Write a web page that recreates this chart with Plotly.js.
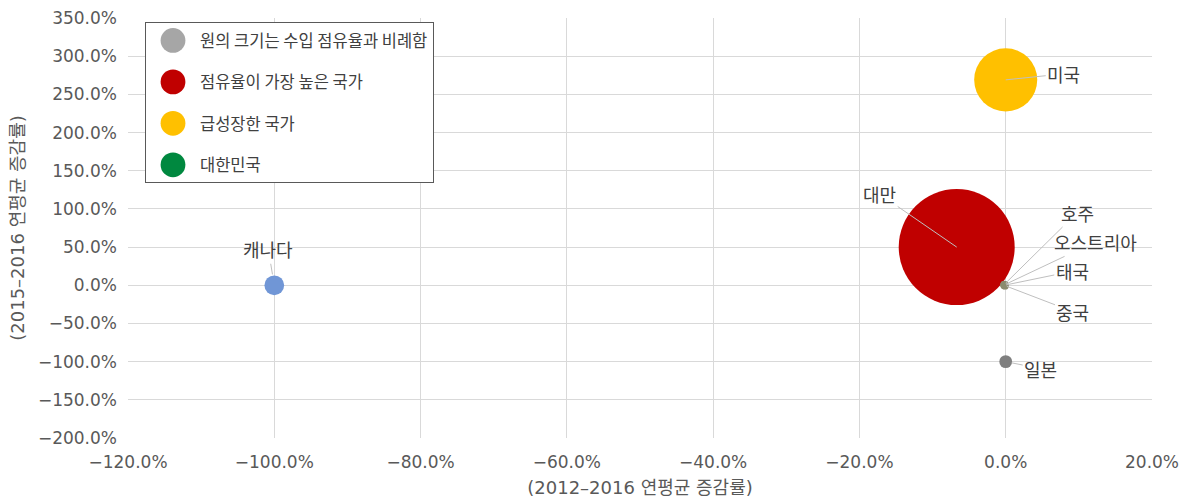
<!DOCTYPE html>
<html>
<head>
<meta charset="utf-8">
<script src="https://cdn.plot.ly/plotly-3.0.1.min.js"></script>
<style>html,body{margin:0;padding:0;background:#fff;}#chart{width:1189px;height:501px;}</style>
</head>
<body>
<div id="chart"></div>
<script>
// Data (x: 2012-2016 CAGR, y: 2015-2016 change, share: import share used for bubble area)
const countries = ['대만', '미국', '캐나다', '일본', '호주', '오스트리아', '태국', '중국'];
const xGrowth   = [-0.067, 0.000, -1.000, 0.000, -0.002, -0.002, -0.002, -0.001];
const yGrowth   = [0.50, 2.69, 0.00, -1.00, 0.01, 0.005, 0.00, -0.005];
const share     = [45, 13.3, 1.3, 0.55, 0.2, 0.2, 0.2, 0.2];
const pointColors = ['#c00000', '#ffc000', '#7096d6', '#7f7f7f', '#8b8b6e', '#8b8b6e', '#8b8b6e', '#8b8b6e'];
const legendNames = ['원의 크기는 수입 점유율과 비례함', '점유율이 가장 높은 국가', '급성장한 국가', '대한민국'];
const legendColors = ['#a6a6a6', '#c00000', '#ffc000', '#00883f'];
const xTitle = '(2012–2016 연평균 증감률)';
const yTitle = '(2015–2016 연평균 증감률)';
// label offsets (px) for leader-line annotations
const labelOffsets = {
  '대만': [-77, -53, 0], '미국': [58, -6, 0], '캐나다': [-6, -36, 11], '일본': [35, 7, 6],
  '호주': [73, -72, 2], '오스트리아': [91, -43, 2], '태국': [68, -14, 2], '중국': [68, 26, 2]
};

const KFONT = '"Noto Sans CJK KR", "Noto Sans", sans-serif';
const NFONT = '"DejaVu Sans", "Noto Sans CJK KR", sans-serif';

const traces = [{
  type: 'scatter', mode: 'markers',
  x: xGrowth, y: yGrowth, text: countries,
  marker: { size: share, sizemode: 'area', sizeref: 45 / (2 * 58 * 58), color: pointColors,
            line: { width: 0 }, opacity: 1 },
  showlegend: false, hoverinfo: 'text'
}];
legendNames.forEach((n, i) => {
  traces.push({
    type: 'scatter', mode: 'markers', x: [null], y: [null], name: n,
    legendgroup: 'g' + i,
    marker: { size: 16, color: legendColors[i] }, showlegend: true
  });
});

const annotations = countries.map((c, i) => ({
  x: xGrowth[i], y: yGrowth[i], xref: 'x', yref: 'y', text: c,
  showarrow: true, arrowhead: 0, arrowwidth: 1, arrowcolor: '#bfbfbf',
  ax: labelOffsets[c][0], ay: labelOffsets[c][1], standoff: labelOffsets[c][2],
  font: { family: KFONT, size: 18, color: '#404040' }
}));

const layout = {
  width: 1189, height: 501,
  margin: { l: 128, r: 37, t: 18, b: 63 },
  paper_bgcolor: '#ffffff', plot_bgcolor: '#ffffff',
  font: { family: NFONT, color: '#595959', size: 17 },
  xaxis: {
    range: [-1.2, 0.2], dtick: 0.2, tickformat: '.1%',
    showgrid: true, gridcolor: '#d9d9d9', gridwidth: 1,
    zeroline: false, showline: false, ticks: '', ticklabelstandoff: 12,
    tickfont: { family: NFONT, size: 17, color: '#595959' },
    title: { text: xTitle, font: { family: NFONT, size: 18, color: '#595959' }, standoff: 10 }
  },
  yaxis: {
    range: [-2.0, 3.5], dtick: 0.5, tickformat: '.1%',
    showgrid: true, gridcolor: '#d9d9d9', gridwidth: 1,
    zeroline: false, showline: false, ticks: '', ticklabelstandoff: 10,
    tickfont: { family: NFONT, size: 17, color: '#595959' },
    title: { text: yTitle, font: { family: NFONT, size: 18, color: '#595959' }, standoff: 8 }
  },
  showlegend: true,
  legend: {
    x: 0.0166, y: 0.99, xanchor: 'left', yanchor: 'top',
    bgcolor: '#ffffff', bordercolor: '#595959', borderwidth: 1,
    font: { family: KFONT, size: 16.5, color: '#404040' },
    traceorder: 'grouped', tracegroupgap: 17, itemsizing: 'trace', itemwidth: 44
  },
  annotations: annotations
};

Plotly.newPlot('chart', traces, layout, { displayModeBar: false, staticPlot: true }).then(() => {
  // enlarge legend bubbles to match the reference symbol size
  document.querySelectorAll('.legend .legendpoints path.scatterpts').forEach(p => {
    const t = p.getAttribute('transform') || '';
    p.setAttribute('transform', t + ' scale(1.55)');
  });
});
</script>
</body>
</html>
